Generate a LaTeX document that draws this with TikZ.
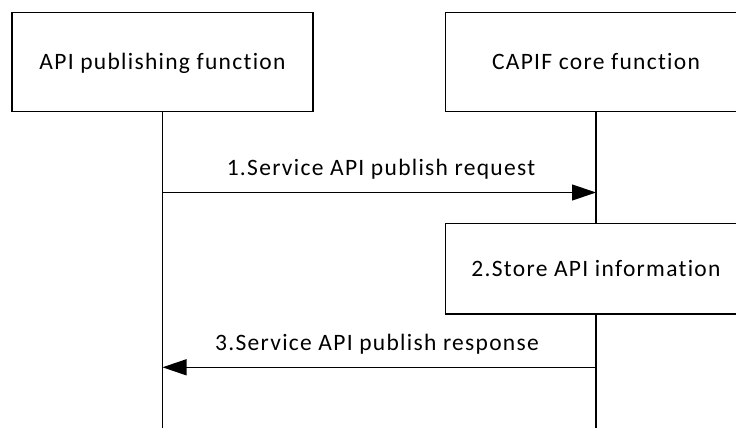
\documentclass[tikz,border=0pt]{standalone}
\usepackage{fontspec}
\setmainfont{Carlito}[LetterSpace=5.5, Ligatures=NoCommon]
\usetikzlibrary{arrows.meta}
\begin{document}
\begin{tikzpicture}[x=1pt, y=-1pt, line width=1.2pt,
    box/.style={draw, minimum width=301pt, inner sep=0pt, text height=17pt, text depth=2pt,
      font=\fontsize{23.5}{28}\selectfont},
    msg/.style={-{Triangle[length=24pt,width=16pt]}},
    lbl/.style={font=\fontsize{23.5}{28}\selectfont, anchor=base, inner sep=0pt}]
      \useasboundingbox (0,0) rectangle (736,428);
      \clip (0,0) rectangle (736,428);
      %
      \node[box, minimum height=99pt] (apf) at (162.5,62) {API publishing function};   % left head
      \node[box, minimum height=99pt] (ccf) at (596,62) {CAPIF core function};         % right head
      \node[box, minimum height=90.5pt] (store) at (596,268.75) {2.Store API information};
      %
      \coordinate (apfEnd) at (162.5,430);   % lifelines
      \coordinate (ccfEnd) at (596,430);
      \draw (apf.south) -- (apfEnd);
      \draw (ccf.south) -- (store.north);
      \draw (store.south) -- (ccfEnd);
      %
      \coordinate (reqFrom) at (162.5,192.5);  % step 1
      \coordinate (reqTo) at (596,192.5);
      \draw[msg] (reqFrom) -- (reqTo);
      \node[lbl] (reqText) at (381,175) {1.Service API publish request};
      %
      \coordinate (rspFrom) at (596,367.3);    % step 3
      \coordinate (rspTo) at (162.5,367.3);
      \draw[msg] (rspFrom) -- (rspTo);
      \node[lbl] (rspText) at (377,350) {3.Service API publish response};
      %
\end{tikzpicture}
\end{document}
